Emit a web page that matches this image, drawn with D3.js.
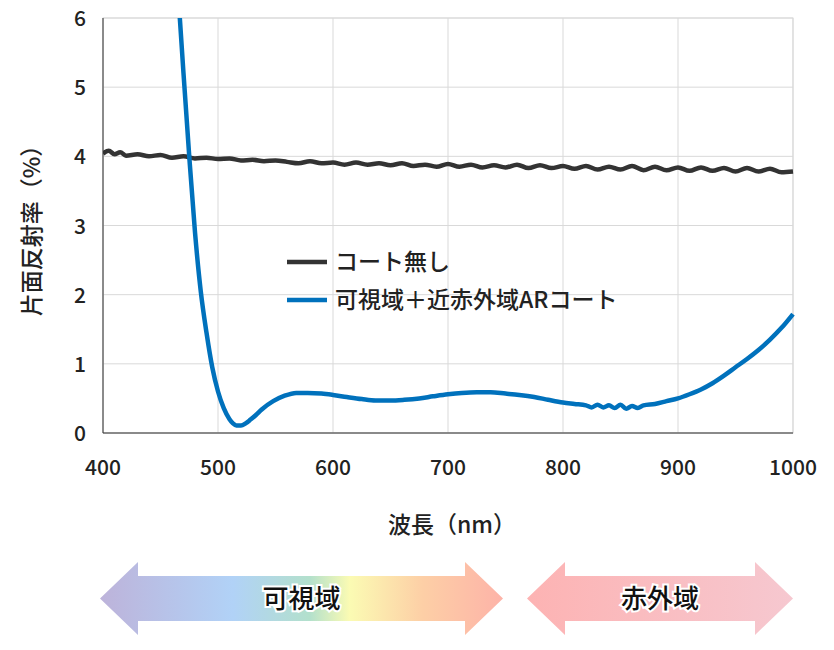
<!DOCTYPE html><html><head><meta charset="utf-8"><script src="https://cdn.jsdelivr.net/npm/d3@7"></script>
<style>body{margin:0;background:#fff;font-family:"Noto Sans CJK JP","Noto Sans",sans-serif}text{font-weight:500}</style></head><body>
<svg id="c" width="834" height="650"></svg>
<script>
const xTicks=[400,500,600,700,800,900,1000];
const yTicks=[0,1,2,3,4,5,6];
const grayX=[400,405,410,415,420,430,440,450,460,470,480,490,500,510,520,530,540,550,560,570,580,590,600,610,620,630,640,650,660,670,680,690,700,710,720,730,740,750,760,770,780,790,800,810,820,830,840,850,860,870,880,890,900,910,920,930,940,950,960,970,980,990,1000];
const grayY=[4.04,4.08,4.03,4.06,4.01,4.03,4.0,4.02,3.98,4.0,3.97,3.98,3.96,3.97,3.94,3.95,3.93,3.94,3.92,3.9,3.93,3.9,3.91,3.88,3.91,3.88,3.9,3.87,3.9,3.86,3.88,3.85,3.89,3.85,3.88,3.84,3.87,3.84,3.88,3.83,3.87,3.83,3.86,3.82,3.86,3.81,3.85,3.81,3.86,3.8,3.85,3.8,3.84,3.79,3.84,3.79,3.83,3.78,3.83,3.78,3.82,3.77,3.78];
const blueX=[466,470,475,480,485,490,495,500,505,510,513,516,520,524,528,533,538,548,558,568,578,590,600,612,625,637,650,662,675,687,700,712,725,737,750,762,775,787,800,810,820,825,830,835,840,845,850,855,860,865,870,880,890,900,910,920,930,940,950,960,970,980,990,1000];
const blueY=[6.2,5.2,4.0,2.9,2.05,1.45,0.95,0.6,0.36,0.2,0.14,0.11,0.11,0.14,0.19,0.26,0.34,0.46,0.54,0.58,0.58,0.57,0.55,0.52,0.49,0.47,0.47,0.48,0.5,0.53,0.56,0.58,0.59,0.59,0.57,0.55,0.52,0.48,0.44,0.42,0.4,0.37,0.41,0.37,0.4,0.36,0.41,0.35,0.39,0.36,0.4,0.42,0.46,0.5,0.56,0.63,0.72,0.83,0.95,1.07,1.2,1.35,1.52,1.72];
const legendLabels=["コート無し","可視域＋近赤外域ARコート"];
const colors=["#333333","#0071bc"];

const svg=d3.select("#c");
const x=d3.scaleLinear().domain([400,1000]).range([103,793]);
const y=d3.scaleLinear().domain([0,6]).range([433,18]);
const g=svg.append("g");
g.selectAll(".gx").data(xTicks).join("line").attr("x1",d=>x(d)).attr("x2",d=>x(d)).attr("y1",y(0)).attr("y2",y(6)).attr("stroke","#d9d9d9");
g.selectAll(".gy").data(yTicks).join("line").attr("x1",x(400)).attr("x2",x(1000)).attr("y1",d=>y(d)).attr("y2",d=>y(d)).attr("stroke","#d9d9d9");
svg.append("rect").attr("x",103).attr("y",18).attr("width",690).attr("height",415).attr("fill","none").attr("stroke","#d9d9d9");
svg.append("line").attr("x1",103).attr("x2",103).attr("y1",18).attr("y2",433).attr("stroke","#333");
svg.append("line").attr("x1",103).attr("x2",793).attr("y1",433).attr("y2",433).attr("stroke","#333");
svg.selectAll(".xt").data(xTicks).join("text").attr("x",d=>x(d)).attr("y",475).attr("text-anchor","middle").attr("font-size",21).attr("fill","#222").text(d=>d);
svg.selectAll(".yt").data(yTicks).join("text").attr("x",86).attr("y",d=>y(d)+8).attr("text-anchor","end").attr("font-size",21).attr("fill","#222").text(d=>d);
const defs=svg.append("defs");
defs.append("clipPath").attr("id","cp").append("rect").attr("x",103).attr("y",18).attr("width",692).attr("height",415);
const line=d3.line().x(d=>x(d[0])).y(d=>y(d[1])).curve(d3.curveMonotoneX);
svg.append("path").attr("clip-path","url(#cp)").attr("d",line(grayX.map((v,i)=>[v,grayY[i]]))).attr("fill","none").attr("stroke",colors[0]).attr("stroke-width",4.5);
svg.append("path").attr("clip-path","url(#cp)").attr("d",line(blueX.map((v,i)=>[v,blueY[i]]))).attr("fill","none").attr("stroke",colors[1]).attr("stroke-width",4.5);
legendLabels.forEach((l,i)=>{const yy=262+i*38;
 svg.append("line").attr("x1",287).attr("x2",327).attr("y1",yy).attr("y2",yy).attr("stroke",colors[i]).attr("stroke-width",4.5);
 svg.append("text").attr("x",335).attr("y",yy+8).attr("font-size",23).attr("fill","#222").text(l);});
svg.append("text").attr("x",452).attr("y",533).attr("text-anchor","middle").attr("font-size",23).attr("fill","#222").text("波長（nm）");
svg.append("text").attr("transform","translate(40,225) rotate(-90)").attr("text-anchor","middle").attr("font-size",23).attr("fill","#222").text("片面反射率（%）");
const gv=defs.append("linearGradient").attr("id","gv");
[["0%","#bdb3da"],["33%","#b1d2f7"],["52%","#b3e0cc"],["62%","#fbfbb3"],["80%","#fdcfa6"],["100%","#fdb3a8"]].forEach(s=>gv.append("stop").attr("offset",s[0]).attr("stop-color",s[1]));
const gi=defs.append("linearGradient").attr("id","gi");
[["0%","#fdb3b3"],["100%","#f6c8d0"]].forEach(s=>gi.append("stop").attr("offset",s[0]).attr("stop-color",s[1]));
function arrow(x0,x1,fill,label){const h=38,y0=562,y1=635,s0=576,s1=621,ym=598.5;
 svg.append("path").attr("d",`M${x0},${ym}L${x0+h},${y0}L${x0+h},${s0}L${x1-h},${s0}L${x1-h},${y0}L${x1},${ym}L${x1-h},${y1}L${x1-h},${s1}L${x0+h},${s1}L${x0+h},${y1}Z`).attr("fill",fill);
 svg.append("text").attr("x",(x0+x1)/2).attr("y",ym+9).attr("text-anchor","middle").attr("font-size",26).attr("fill","#111").attr("stroke","#fff").attr("stroke-width",4).attr("paint-order","stroke").text(label);}
arrow(100,503,"url(#gv)","可視域");
arrow(527,793,"url(#gi)","赤外域");
</script></body></html>
